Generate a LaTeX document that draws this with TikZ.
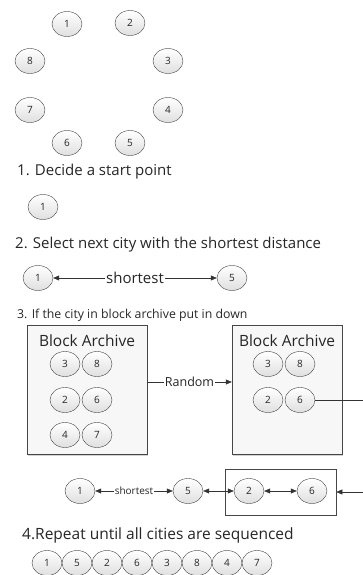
\documentclass[tikz,border=0pt]{standalone}
\usepackage{fontspec}
\setmainfont{Open Sans}
\usetikzlibrary{shapes.geometric,shadows,arrows.meta}

\tikzset{
  city/.style={ellipse,draw=gray!55!black,top color=white,bottom color=gray!25,
    minimum width=30pt,minimum height=25pt,inner sep=0pt,font=\fontsize{10}{11}\selectfont},
  archive/.style={draw=gray!55!black,fill=gray!6,minimum width=120pt,minimum height=129pt,
    drop shadow={shadow xshift=1pt,shadow yshift=-1pt,opacity=0.35}},
  steptext/.style={anchor=west,inner sep=0pt},
  link/.style={gray!40!black,line width=0.6pt},
  linklabel/.style={fill=white,inner sep=1pt,text=black!85}
}

\begin{document}
\begin{tikzpicture}[x=1pt,y=-1pt,>={Stealth[length=6pt,width=5pt,inset=0pt]},text=black!85]
\useasboundingbox (0,0) rectangle (363,575);

% the eight cities
\node[city] (c1) at (67,24) {1};
\node[city] (c2) at (130,23) {2};
\node[city] (c3) at (168,61) {3};
\node[city] (c4) at (168,110) {4};
\node[city] (c5) at (130,143) {5};
\node[city] (c6) at (67,143) {6};
\node[city] (c7) at (30,110) {7};
\node[city] (c8) at (30,61) {8};

% step 1
\node[steptext,font=\fontsize{15}{18}\selectfont] (t1) at (17,172) {1. Decide a start point};
\node[city] (s1) at (43,207) {1};

% step 2
\node[steptext,font=\fontsize{15}{18}\selectfont] (t2) at (15,245) {2. Select next city with the shortest distance};
\node[city] (p1) at (38,278) {1};
\node[city] (p5) at (232,278) {5};
\draw[<->,link] (p1) -- node[linklabel,font=\fontsize{15}{18}\selectfont] {shortest} (p5);

% step 3
\node[steptext,font=\fontsize{12.3}{15}\selectfont] (t3) at (17,315) {3. If the city in block archive put in down};
\node[archive] (boxL) at (87,390) {};
\node[archive,minimum width=110pt] (boxR) at (287,390) {};
\node[font=\fontsize{15.5}{18}\selectfont] (labL) at (87,341) {Block Archive};
\node[font=\fontsize{15.5}{18}\selectfont] (labR) at (287,341) {Block Archive};

\node[city] (l3) at (65,364) {3};
\node[city] (l8) at (97,364) {8};
\node[city] (l2) at (65,400) {2};
\node[city] (l6) at (97,400) {6};
\node[city] (l4) at (65,435) {4};
\node[city] (l7) at (97,435) {7};

\node[city] (r3) at (268,364) {3};
\node[city] (r8) at (300,364) {8};
\node[city] (r2) at (268,400) {2};
\node[city] (r6) at (300,400) {6};

\draw[->,link] ([yshift=8pt]boxL.east) -- node[linklabel,font=\fontsize{12.5}{14}\selectfont] {Random} ([yshift=8pt]boxR.west);

\node[draw=gray!55!black,line width=0.6pt,minimum width=111pt,minimum height=46pt] (blk) at (280.5,492) {};
\node[city] (q1) at (80,491) {1};
\node[city] (q5) at (188,491) {5};
\node[city] (q2) at (249,491) {2};
\node[city] (q6) at (312,491) {6};
\draw[<->,link] (q1) -- node[linklabel,font=\fontsize{10}{11}\selectfont] {shortest} (q5);
\draw[<->,link] (q5) -- (q2);
\draw[<->,link] (q2) -- (q6);
\draw[->,link] (r6) -- ++(70,0) |- (blk);

% step 4
\node[steptext,font=\fontsize{15.5}{18}\selectfont] (t4) at (22,535) {4.Repeat until all cities are sequenced};
\foreach \n [count=\i] in {1,5,2,6,3,8,4,7}
  \node[city] (f\i) at (17+30*\i,563) {\n};
\end{tikzpicture}
\end{document}
